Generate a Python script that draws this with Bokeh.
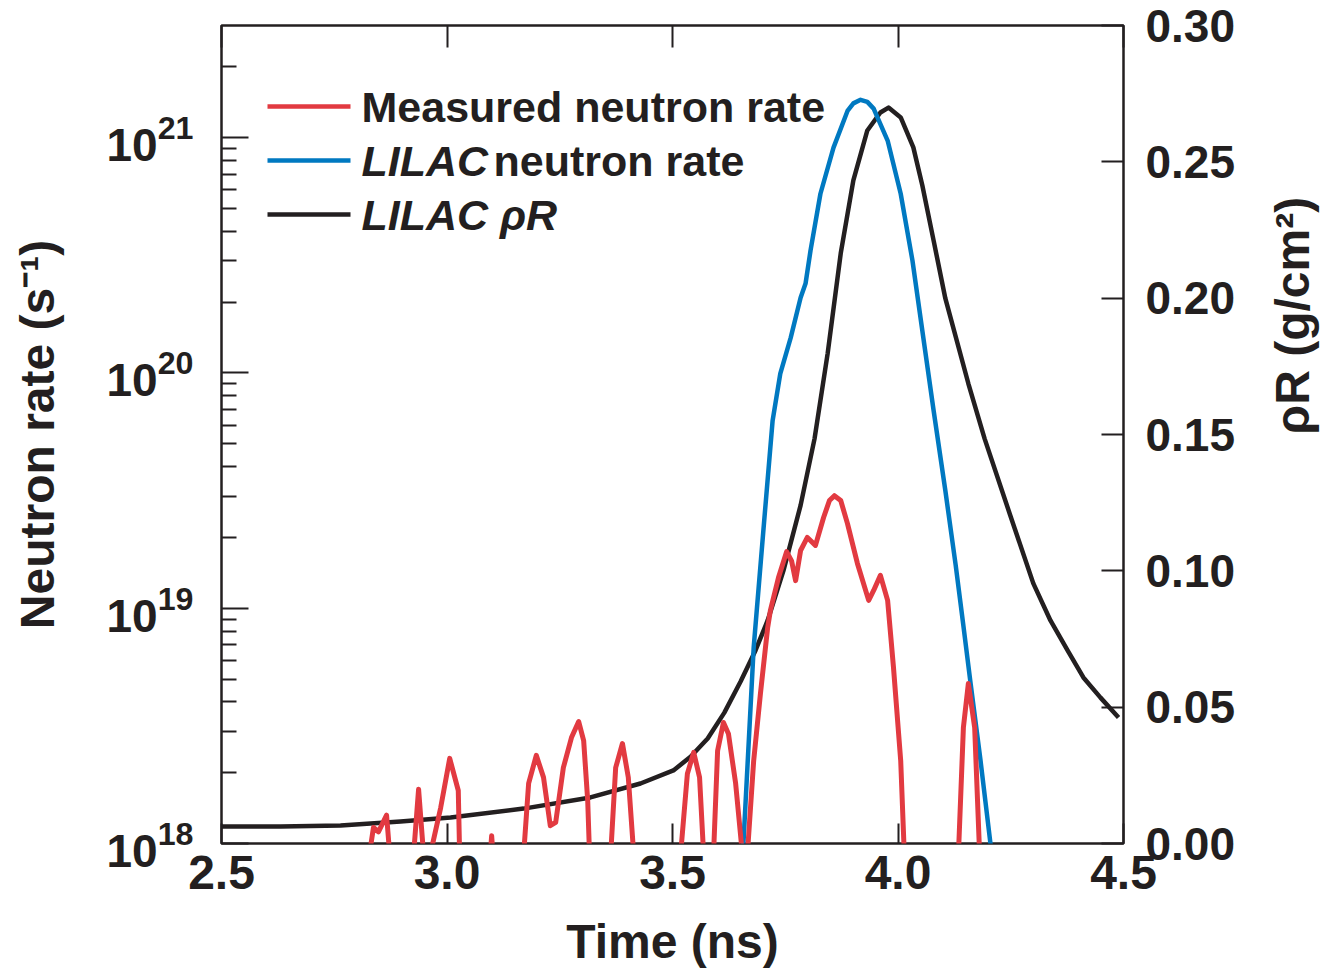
from math import log10, pi
from bokeh.plotting import figure
from bokeh.models import (Range1d, LinearAxis, FixedTicker, Label, BoxAnnotation, LinearScale,
                          NumeralTickFormatter, CustomJSTickFormatter, LogTickFormatter)
from bokeh.embed import file_html
from bokeh.resources import INLINE

# ---------------- data ----------------
# Measured neutron rate (s^-1); values below 1e18 fall off the bottom of the plot
meas_time = [2.828, 2.837, 2.848, 2.866, 2.873,
             2.926, 2.937, 2.948,
             2.963, 2.986, 3.006, 3.025, 3.028,
             3.096, 3.099, 3.102,
             3.170, 3.181, 3.198, 3.214, 3.229, 3.241, 3.258, 3.276, 3.292, 3.303, 3.312, 3.316,
             3.363, 3.374, 3.389, 3.402, 3.414,
             3.518, 3.533, 3.547, 3.560, 3.569,
             3.591, 3.600, 3.613, 3.624, 3.640, 3.655,
             3.666, 3.680, 3.695, 3.711, 3.717, 3.735, 3.753, 3.764, 3.773, 3.784, 3.799,
             3.817, 3.835, 3.848, 3.859, 3.873, 3.888, 3.910, 3.935, 3.946, 3.961, 3.977,
             3.990, 4.006, 4.014,
             4.134, 4.145, 4.156, 4.170, 4.181]
meas_rate = [0.9e18, 1.17e18, 1.12e18, 1.32e18, 0.9e18,
             0.9e18, 1.70e18, 0.9e18,
             0.9e18, 1.42e18, 2.30e18, 1.68e18, 0.9e18,
             0.9e18, 1.08e18, 0.9e18,
             0.9e18, 1.80e18, 2.37e18, 1.91e18, 1.19e18, 1.23e18, 2.10e18, 2.82e18, 3.30e18,
             2.74e18, 1.52e18, 0.9e18,
             0.9e18, 2.10e18, 2.66e18, 1.91e18, 0.9e18,
             0.9e18, 1.98e18, 2.44e18, 1.91e18, 0.9e18,
             0.9e18, 2.48e18, 3.27e18, 2.93e18, 1.80e18, 0.9e18,
             0.9e18, 2.25e18, 4.34e18, 8.28e18, 9.78e18, 1.35e19, 1.74e19, 1.59e19, 1.31e19,
             1.76e19, 2.00e19, 1.85e19, 2.43e19, 2.87e19, 3.01e19, 2.87e19, 2.29e19, 1.55e19,
             1.08e19, 1.19e19, 1.38e19, 1.08e19, 5.60e18, 2.25e18, 0.9e18,
             0.9e18, 3.11e18, 4.79e18, 3.11e18, 0.9e18]

# LILAC simulated neutron rate (s^-1)
lilac_time = [3.656, 3.680, 3.702, 3.722, 3.739, 3.762, 3.784, 3.795, 3.806, 3.828, 3.857,
              3.888, 3.901, 3.917, 3.932, 3.946, 3.977, 4.006, 4.032, 4.054, 4.079, 4.105,
              4.128, 4.145, 4.161, 4.183, 4.205, 4.215]
lilac_rate = [0.9e18, 6.81e18, 2.20e19, 6.28e19, 9.93e19, 1.41e20, 2.09e20, 2.40e20, 3.31e20,
              5.78e20, 9.08e20, 1.30e21, 1.40e21, 1.45e21, 1.42e21, 1.33e21, 9.73e20, 5.78e20,
              3.01e20, 1.51e20, 6.92e19, 3.16e19, 1.52e19, 8.43e18, 4.79e18, 2.25e18, 1.0e18,
              0.9e18]

# LILAC areal density rhoR (g/cm^2)
rhor_time = [2.500, 2.631, 2.764, 2.897, 3.008, 3.170, 3.318, 3.429, 3.502, 3.540, 3.578,
             3.615, 3.651, 3.684, 3.711, 3.746, 3.784, 3.815, 3.844, 3.873, 3.901, 3.932,
             3.961, 3.979, 4.006, 4.034, 4.054, 4.079, 4.105, 4.156, 4.192, 4.249, 4.300,
             4.338, 4.376, 4.411, 4.449, 4.489]
rhor_value = [0.0062, 0.0062, 0.0066, 0.0081, 0.0095, 0.0128, 0.0169, 0.0220, 0.0268, 0.0318,
              0.0385, 0.0480, 0.0594, 0.0708, 0.0818, 0.1001, 0.1240, 0.1485, 0.1797, 0.2164,
              0.2432, 0.2615, 0.2681, 0.2699, 0.2663, 0.2553, 0.2413, 0.2211, 0.1999, 0.1687,
              0.1485, 0.1203, 0.0954, 0.0818, 0.0708, 0.0609, 0.0535, 0.0462]

# axes / ticks
x_ticks = [2.5, 3.0, 3.5, 4.0, 4.5]
y_major_ticks = [1e18, 1e19, 1e20, 1e21]
y_minor_ticks = [2e18, 3e18, 4e18, 5e18, 6e18, 7e18, 8e18, 9e18,
                 2e19, 3e19, 4e19, 5e19, 6e19, 7e19, 8e19, 9e19,
                 2e20, 3e20, 4e20, 5e20, 6e20, 7e20, 8e20, 9e20,
                 2e21]
rho_ticks = [0.0, 0.05, 0.10, 0.15, 0.20, 0.25, 0.30]

legend_labels = ["Measured neutron rate", "LILAC neutron rate", "LILAC \u03c1R"]
x_title = "Time (ns)"
y_title = "Neutron rate (s\u207b\u00b9)"
rho_title = "\u03c1R (g/cm\u00b2)"

X_RANGE = (2.5, 4.5)
Y_RANGE = (1e18, 3e21)
RHO_RANGE = (0.0, 0.30)

# ---------------- styling ----------------
RED = "#e23a41"
BLUE = "#0079c1"
INK = "#231f20"
FONT = "Liberation Sans"

FRAME_W, FRAME_H = 902, 818
LEFT, TOP = 221, 25
W, H = 1331, 967

p = figure(frame_width=FRAME_W, frame_height=FRAME_H,
           min_border_left=LEFT, min_border_top=TOP,
           min_border_right=W - LEFT - FRAME_W, min_border_bottom=H - TOP - FRAME_H,
           x_range=Range1d(*X_RANGE), y_range=Range1d(*Y_RANGE), y_axis_type="log",
           output_backend="svg", toolbar_location=None)
p.extra_y_ranges = {"rho": Range1d(*RHO_RANGE)}
p.extra_y_scales = {"rho": LinearScale()}
p.xgrid.visible = False
p.ygrid.visible = False
p.outline_line_color = INK
p.outline_line_width = 2.5
p.background_fill_color = "white"
p.border_fill_color = "white"

blank = CustomJSTickFormatter(code="return ''")


def style_title(ax, standoff):
    ax.axis_label_text_font = FONT
    ax.axis_label_text_font_size = "48px"
    ax.axis_label_text_font_style = "bold"
    ax.axis_label_text_color = INK
    ax.axis_label_standoff = standoff


# bottom axis
xa = p.xaxis[0]
xa.ticker = FixedTicker(ticks=x_ticks)
xa.formatter = NumeralTickFormatter(format="0.0")
xa.major_label_text_font = FONT
xa.major_label_text_font_size = "48px"
xa.major_label_text_font_style = "bold"
xa.major_label_text_color = INK
xa.major_label_standoff = 12
xa.major_tick_in = 20
xa.major_tick_out = 0
xa.major_tick_line_width = 2
xa.major_tick_line_color = INK
xa.minor_tick_line_color = None
xa.axis_line_color = None
xa.axis_label = x_title
style_title(xa, 23)

# top axis (ticks only)
ta = LinearAxis(ticker=FixedTicker(ticks=x_ticks), formatter=blank,
                major_label_text_font_size="0px", major_label_standoff=0,
                major_tick_in=22, major_tick_out=0, major_tick_line_width=2,
                major_tick_line_color=INK, minor_tick_line_color=None, axis_line_color=None)
p.add_layout(ta, "above")

# left log axis
ya = p.yaxis[0]
ya.ticker = FixedTicker(ticks=y_major_ticks, minor_ticks=y_minor_ticks)
ya.formatter = LogTickFormatter()
ya.major_label_text_font = FONT
ya.major_label_text_font_size = "46px"
ya.major_label_text_font_style = "bold"
ya.major_label_text_color = INK
ya.major_label_standoff = 28
ya.major_tick_in = 27
ya.major_tick_out = 0
ya.minor_tick_in = 15
ya.minor_tick_out = 0
ya.major_tick_line_width = 2
ya.minor_tick_line_width = 2
ya.major_tick_line_color = INK
ya.minor_tick_line_color = INK
ya.axis_line_color = None
ya.axis_label = y_title
style_title(ya, 40)

# right rhoR axis
ra = LinearAxis(y_range_name="rho", ticker=FixedTicker(ticks=rho_ticks),
                formatter=NumeralTickFormatter(format="0.00"),
                major_label_text_font=FONT, major_label_text_font_size="46px",
                major_label_text_font_style="bold", major_label_text_color=INK,
                major_label_standoff=22, major_tick_in=22, major_tick_out=0,
                major_tick_line_width=2, major_tick_line_color=INK,
                minor_tick_line_color=None, axis_line_color=None)
ra.axis_label = rho_title
style_title(ra, 54)
try:
    ra.axis_label_orientation = pi / 2
except Exception:
    pass
p.add_layout(ra, "right")

# ---------------- curves ----------------
p.line(rhor_time, rhor_value, y_range_name="rho", line_color=INK, line_width=4.5, line_join="round")
p.line(lilac_time, lilac_rate, line_color=BLUE, line_width=4.5, line_join="round")
p.line(meas_time, meas_rate, line_color=RED, line_width=5, line_join="round")

# ---------------- legend (inside the frame) ----------------
px_per_dec = FRAME_H / (log10(Y_RANGE[1]) - log10(Y_RANGE[0]))
x_per_px = (X_RANGE[1] - X_RANGE[0]) / FRAME_W


def y_from_top(px):
    return 10 ** (log10(Y_RANGE[1]) - px / px_per_dec)


rows = [81, 135, 189]
colors = [RED, BLUE, INK]
for r, c in zip(rows, colors):
    p.add_layout(BoxAnnotation(left=X_RANGE[0] + 46 * x_per_px, right=X_RANGE[0] + 129 * x_per_px,
                               bottom=y_from_top(r + 2.3), top=y_from_top(r - 2.3),
                               fill_color=c, fill_alpha=1.0, line_color=None, level="overlay"))


def legend_text(txt, xoff, row, style):
    p.add_layout(Label(x=X_RANGE[0], y=Y_RANGE[1], x_offset=xoff, y_offset=-row, text=txt,
                       text_align="left", text_baseline="middle", text_font=FONT,
                       text_font_size="43px", text_font_style=style, text_color=INK))


legend_text(legend_labels[0], 140, rows[0], "bold")
legend_text(legend_labels[1].split(" ", 1)[0], 140, rows[1], "bold italic")
legend_text(legend_labels[1].split(" ", 1)[1], 272, rows[1], "bold")
legend_text(legend_labels[2], 140, rows[2], "bold italic")

open("out.html", "w").write(file_html(p, INLINE))
